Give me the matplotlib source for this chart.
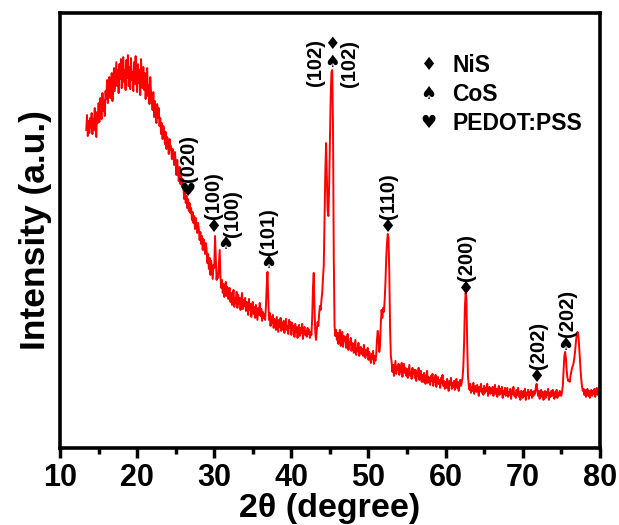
import numpy as np
import matplotlib
matplotlib.use('Agg')
import matplotlib.pyplot as plt

plt.rcParams['font.family'] = ['Liberation Sans', 'DejaVu Sans']
plt.rcParams['font.weight'] = 'bold'

# XRD pattern, 0.1 degree steps from 13.4 to 80.0
two_theta = np.round(np.arange(13.4, 80.05, 0.1), 1)
intensity = [
    318, 333, 312, 327, 315, 330,
    320, 335, 314, 329, 318, 340, 322, 311, 336, 325,
    345, 326, 350, 333, 329, 355, 337, 348, 332, 357,
    349, 368, 345, 362, 371, 350, 358, 375, 347, 366,
    380, 357, 372, 386, 362, 378, 355, 384, 369, 389,
    360, 383, 391, 366, 378, 358, 388, 370, 393, 362,
    381, 359, 390, 368, 376, 357, 386, 364, 392, 371,
    356, 384, 365, 378, 353, 389, 372, 360, 381, 358,
    375, 349, 368, 380, 352, 363, 344, 371, 356, 349,
    338, 356, 331, 347, 335, 325, 344, 330, 340, 322,
    330, 314, 325, 309, 322, 318, 304, 316, 299, 311,
    306, 294, 309, 298, 302, 289, 299, 292, 283, 296,
    286, 273, 288, 276, 267, 281, 264, 274, 261, 269,
    260, 249, 257, 245, 252, 240, 249, 237, 245, 235,
    240, 228, 236, 225, 232, 219, 230, 223, 215, 225,
    219, 208, 216, 204, 212, 198, 209, 201, 194, 205,
    199, 185, 194, 179, 190, 173, 187, 178, 169, 183,
    180, 212, 190, 168, 175, 170, 185, 198, 172, 160,
    168, 155, 164, 151, 160, 166, 152, 161, 149, 157,
    160, 146, 155, 143, 152, 158, 141, 150, 145, 156,
    140, 153, 144, 150, 138, 147, 155, 139, 148, 142,
    150, 137, 146, 140, 133, 149, 138, 144, 131, 142,
    146, 134, 141, 130, 143, 136, 128, 140, 133, 145,
    132, 139, 127, 136, 130, 134, 128, 142, 162, 176,
    150, 128, 135, 122, 131, 125, 133, 120, 129, 123,
    118, 131, 124, 116, 128, 121, 130, 117, 125, 119,
    127, 115, 124, 129, 118, 122, 114, 128, 120, 126,
    113, 125, 118, 122, 111, 124, 116, 121, 110, 119,
    123, 112, 120, 115, 124, 109, 118, 121, 113, 117,
    111, 120, 114, 118, 110, 116, 113, 130, 160, 175,
    140, 115, 108, 118, 126, 122, 134, 142, 138, 148,
    155, 170, 182, 230, 275, 305, 270, 238, 232, 262,
    305, 352, 376, 378, 320, 190, 122, 112, 118, 108,
    115, 104, 113, 118, 102, 110, 116, 101, 112, 107,
    111, 100, 108, 114, 98, 106, 103, 110, 97, 105,
    104, 95, 102, 108, 93, 100, 97, 105, 92, 99,
    101, 94, 99, 92, 103, 95, 90, 98, 93, 100,
    88, 96, 91, 85, 94, 89, 97, 84, 92, 87,
    93, 108, 117, 110, 96, 102, 125, 138, 130, 140,
    136, 148, 165, 190, 205, 214, 210, 175, 120, 92,
    86, 76, 83, 72, 80, 87, 74, 81, 78, 84,
    73, 82, 76, 85, 71, 79, 84, 75, 80, 72,
    79, 70, 77, 83, 72, 76, 69, 80, 74, 78,
    70, 78, 67, 75, 72, 80, 68, 74, 77, 66,
    73, 66, 75, 69, 64, 72, 77, 65, 71, 68,
    63, 72, 67, 74, 62, 70, 66, 73, 61, 69,
    71, 64, 68, 60, 70, 65, 73, 62, 67, 59,
    66, 60, 69, 62, 57, 67, 63, 70, 59, 65,
    61, 67, 58, 64, 69, 60, 66, 57, 63, 68,
    62, 66, 70, 82, 105, 140, 155, 150, 105, 72,
    63, 58, 64, 55, 61, 57, 65, 54, 60, 62,
    56, 63, 58, 52, 61, 57, 64, 55, 59, 53,
    62, 55, 60, 57, 64, 52, 58, 61, 54, 59,
    55, 61, 52, 58, 63, 54, 59, 51, 57, 62,
    53, 59, 55, 61, 50, 57, 54, 60, 52, 58,
    60, 51, 56, 53, 59, 49, 57, 54, 61, 52,
    55, 50, 58, 53, 60, 51, 56, 48, 57, 54,
    50, 57, 52, 59, 48, 55, 53, 58, 49, 56,
    53, 58, 50, 56, 52, 57, 54, 60, 64, 58,
    52, 57, 49, 55, 58, 51, 56, 48, 54, 57,
    50, 56, 53, 59, 48, 55, 51, 57, 52, 58,
    53, 49, 56, 51, 58, 50, 55, 52, 57, 54,
    52, 56, 62, 78, 92, 96, 90, 78, 70, 67,
    68, 66, 72, 76, 80, 82, 85, 90, 97, 106,
    113, 116, 114, 104, 90, 78, 68, 61, 57, 59,
    53, 58, 51, 56, 59, 52, 57, 50, 55, 58,
    52, 57, 54, 59, 51, 56, 60, 53, 58, 55,
    62,
]

# peak labels: marker position, phase, hkl and where the hkl text sits
peak_pos = [26.5, 30.0, 31.4, 37.0, 52.6, 62.7, 71.8, 75.5]
peak_y = [257, 221, 204, 185, 221, 159, 71, 103]
peak_phase = ['PEDOT:PSS', 'NiS', 'CoS', 'CoS', 'NiS', 'NiS', 'NiS', 'CoS']
peak_hkl = ['(020)', '(100)', '(100)', '(101)', '(110)', '(200)', '(202)', '(202)']
label_x = [26.6, 29.9, 32.4, 37.0, 52.6, 62.7, 72.1, 75.8]
label_y = [266, 229, 211, 193, 229, 167, 79, 111]

phases = ['NiS', 'CoS', 'PEDOT:PSS']
symbols = {'NiS': '\u2666', 'CoS': '\u2660', 'PEDOT:PSS': '\u2665'}

fig = plt.figure(figsize=(6.19, 5.25), dpi=100)
ax = fig.add_axes([0.097, 0.147, 0.872, 0.828])

ax.plot(two_theta, intensity, color='#ff0000', lw=1.4)

for x, y, ph, hkl, lx, ly in zip(peak_pos, peak_y, peak_phase, peak_hkl,
                                 label_x, label_y):
    ax.text(x, y, symbols[ph], family='DejaVu Sans', fontsize=13,
            ha='center', va='center')
    ax.text(lx, ly, hkl, rotation=90, fontsize=14.5, fontweight='bold',
            ha='center', va='bottom')

# the strongest reflection carries both NiS and CoS (102)
ax.text(45.3, 404, symbols['NiS'], family='DejaVu Sans', fontsize=12.5,
        ha='center', va='center')
ax.text(45.3, 386, symbols['CoS'], family='DejaVu Sans', fontsize=12.5,
        ha='center', va='center')
ax.text(43.1, 386, '(102)', rotation=90, fontsize=14.5, fontweight='bold',
        ha='center', va='center')
ax.text(47.6, 385, '(102)', rotation=90, fontsize=14.5, fontweight='bold',
        ha='center', va='center')

# legend made of glyphs
for i, ph in enumerate(phases):
    yy = 383 - 29 * i
    ax.text(57.8, yy, symbols[ph], family='DejaVu Sans', fontsize=13,
            ha='center', va='center')
    ax.text(60.9, yy, ph, fontsize=16.5, fontweight='bold',
            ha='left', va='center')

ax.set_xlim(10, 80)
ax.set_ylim(0, 435)
ax.set_xticks(np.arange(10, 81, 10))
ax.set_xticks(np.arange(15, 80, 10), minor=True)
ax.set_yticks([])
ax.tick_params(axis='x', which='major', direction='out', length=7, width=2.5,
               labelsize=22, pad=4)
ax.tick_params(axis='x', which='minor', direction='out', length=4, width=2.5)
for lab in ax.get_xticklabels():
    lab.set_fontweight('bold')
for s in ax.spines.values():
    s.set_linewidth(2.6)

ax.set_xlabel('2\u03b8 (degree)', fontsize=24.5, fontweight='bold', labelpad=0)
ax.set_ylabel('Intensity (a.u.)', fontsize=25.5, fontweight='bold', labelpad=6)

fig.savefig('out.png', dpi=100)
